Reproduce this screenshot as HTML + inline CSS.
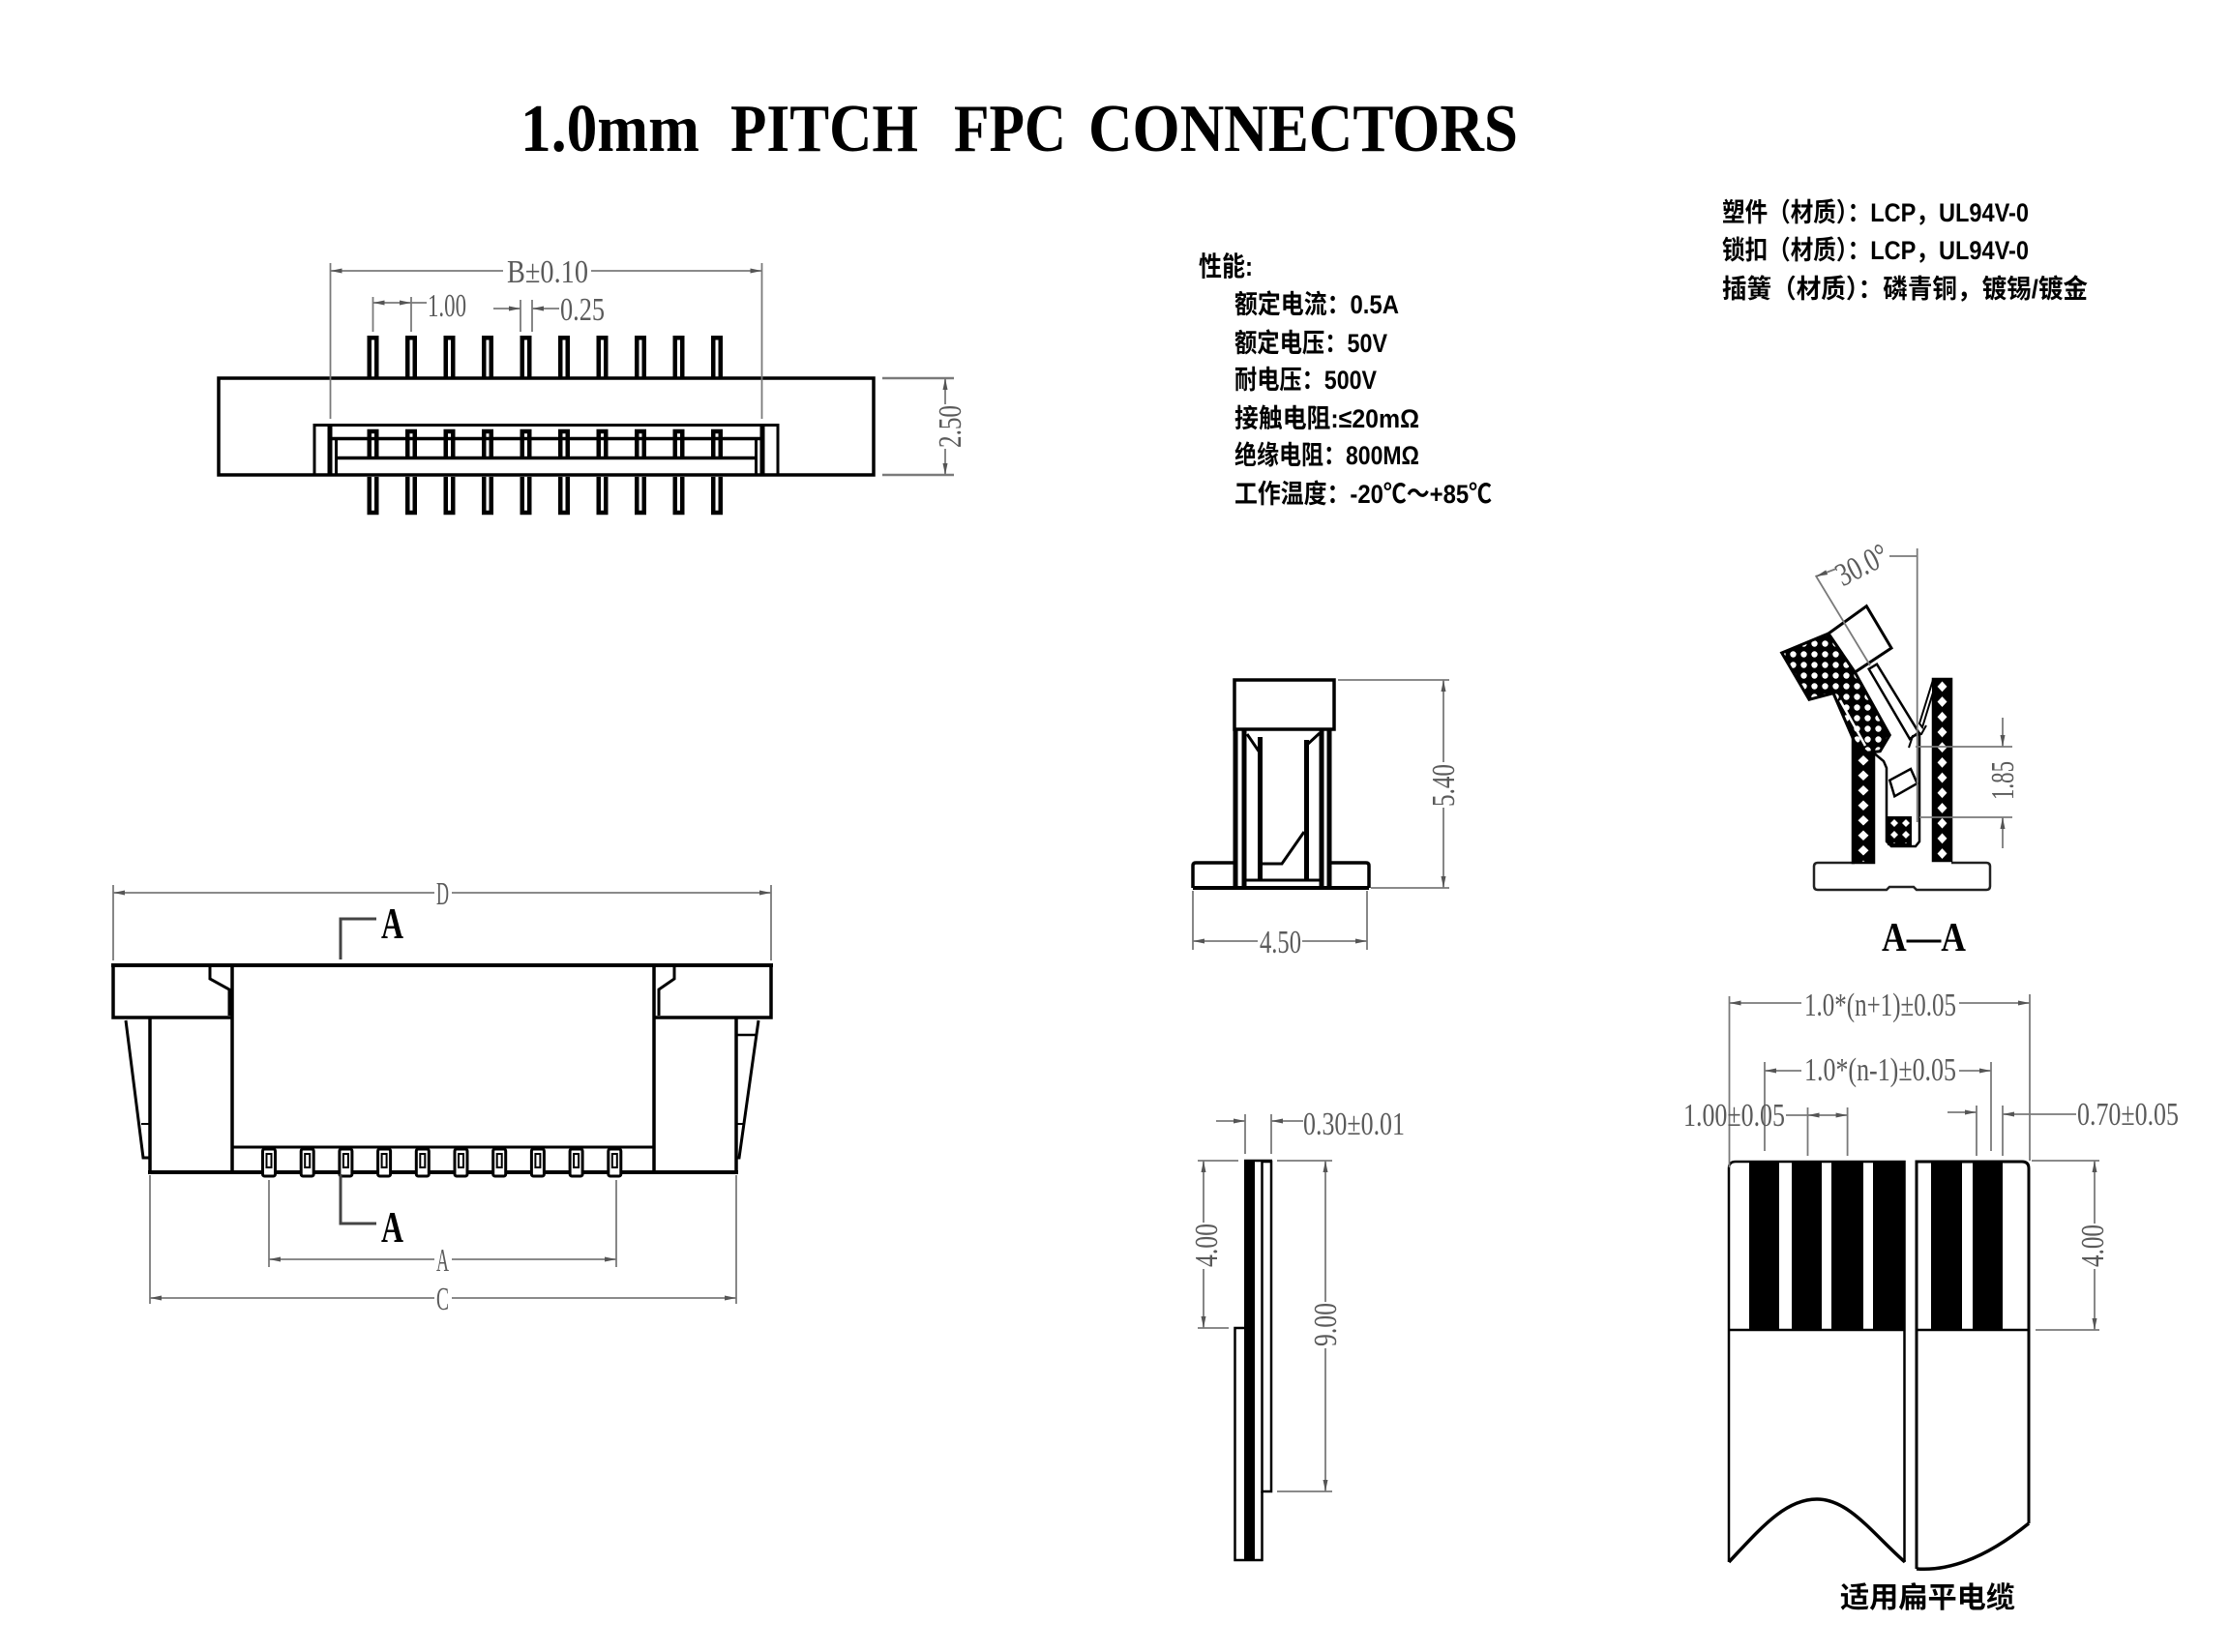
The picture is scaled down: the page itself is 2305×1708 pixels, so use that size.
<!DOCTYPE html>
<html><head><meta charset="utf-8">
<style>
html,body{margin:0;padding:0;background:#fff;}
svg{display:block}
.k{stroke:#000;fill:none;stroke-width:3}
.d{stroke:#7a7a7a;fill:none;stroke-width:1.8}
.t{fill:#5a5a5a;font-family:"Liberation Serif",serif;font-size:34px}
.cj{font-family:"Liberation Sans","Noto Sans CJK SC",sans-serif;font-weight:bold;fill:#000}
</style></head><body>
<svg width="2305" height="1708" viewBox="0 0 2305 1708" xmlns="http://www.w3.org/2000/svg">
<defs>
<marker id="ar" viewBox="0 0 12 6" refX="12" refY="3" markerWidth="12" markerHeight="6" orient="auto" markerUnits="userSpaceOnUse"><path d="M0 0.5L12 3L0 5.5z" fill="#555"/></marker>
<pattern id="hw1" x="1915" y="763" width="22" height="15.5" patternUnits="userSpaceOnUse"><rect width="22" height="15.5" fill="#000"/><path d="M11 2.5L16.5 7.75L11 13L5.5 7.75z" fill="#fff"/></pattern>
<pattern id="hw2" x="1998" y="702" width="19" height="15.7" patternUnits="userSpaceOnUse"><rect width="19" height="15.7" fill="#000"/><path d="M9.5 2.5L14.5 7.85L9.5 13.2L4.5 7.85z" fill="#fff"/></pattern>
<pattern id="hh" x="0" y="0" width="11" height="11" patternUnits="userSpaceOnUse"><rect width="11" height="11" fill="#000"/><circle cx="5.5" cy="5.5" r="3.2" fill="#fff"/></pattern>
<pattern id="hb" x="1952" y="845" width="12" height="12" patternUnits="userSpaceOnUse"><rect width="12" height="12" fill="#000"/><path d="M6 2L10 6L6 10L2 6z" fill="#fff"/></pattern>
<g id="pin" stroke="#000" stroke-width="4.5" fill="none">
<path d="M-3.75 391V349.25H3.75V391"/>
<path d="M-3.75 472V446H3.75V472"/>
<path d="M-3.75 493V530H3.75V493"/>
</g>
<g id="ct">
<rect x="-6.5" y="1188" width="13" height="28" rx="2" fill="#fff" stroke="#000" stroke-width="3"/>
<rect x="-2.5" y="1193" width="5" height="14" fill="none" stroke="#000" stroke-width="2"/>
</g>
</defs>

<!-- TITLE -->
<g font-family="Liberation Serif, serif" font-weight="bold" font-size="70" fill="#000">
<text x="538" y="156" textLength="185" lengthAdjust="spacingAndGlyphs">1.0mm</text>
<text x="755" y="156" textLength="194" lengthAdjust="spacingAndGlyphs">PITCH</text>
<text x="986" y="156" textLength="116" lengthAdjust="spacingAndGlyphs">FPC</text>
<text x="1125" y="156" textLength="444" lengthAdjust="spacingAndGlyphs">CONNECTORS</text>
</g>

<!-- TOP-LEFT DRAWING -->
<rect x="226" y="391" width="677" height="100" fill="none" stroke="#000" stroke-width="3.5"/>
<rect x="325" y="439.5" width="479" height="51.5" fill="none" stroke="#000" stroke-width="3"/>
<line x1="341" y1="439.5" x2="341" y2="491" stroke="#000" stroke-width="5"/>
<line x1="788" y1="439.5" x2="788" y2="491" stroke="#000" stroke-width="5"/>
<line x1="347.5" y1="453" x2="347.5" y2="491" stroke="#000" stroke-width="3"/>
<line x1="781.5" y1="453" x2="781.5" y2="491" stroke="#000" stroke-width="3"/>
<line x1="341" y1="453.5" x2="788" y2="453.5" stroke="#000" stroke-width="3.5"/>
<line x1="347.5" y1="473.5" x2="781.5" y2="473.5" stroke="#000" stroke-width="3.5"/>
<use href="#pin" x="385.5"/><use href="#pin" x="425"/><use href="#pin" x="464.5"/><use href="#pin" x="504"/><use href="#pin" x="543.5"/>
<use href="#pin" x="583"/><use href="#pin" x="622.5"/><use href="#pin" x="662"/><use href="#pin" x="701.5"/><use href="#pin" x="741"/>
<!-- B dim -->
<g class="d">
<line x1="341.5" y1="272" x2="341.5" y2="433"/>
<line x1="787.5" y1="272" x2="787.5" y2="433"/>
<line x1="520" y1="280" x2="341.5" y2="280" marker-end="url(#ar)"/>
<line x1="611" y1="280" x2="787.5" y2="280" marker-end="url(#ar)"/>
<!-- 1.00 -->
<line x1="385.5" y1="307" x2="385.5" y2="343"/>
<line x1="425" y1="307" x2="425" y2="343"/>
<line x1="405" y1="313" x2="385.5" y2="313" marker-end="url(#ar)"/>
<line x1="405" y1="313" x2="425" y2="313" marker-end="url(#ar)"/>
<line x1="425" y1="313" x2="441" y2="313"/>
<!-- 0.25 -->
<line x1="538" y1="310" x2="538" y2="343"/>
<line x1="550" y1="310" x2="550" y2="343"/>
<line x1="510" y1="319" x2="538" y2="319" marker-end="url(#ar)"/>
<line x1="578" y1="319" x2="550" y2="319" marker-end="url(#ar)"/>
<!-- 2.50 -->
<line x1="912" y1="391" x2="986" y2="391" stroke-width="2.5"/>
<line x1="912" y1="491" x2="986" y2="491" stroke-width="2.5"/>
<line x1="977" y1="418" x2="977" y2="391" marker-end="url(#ar)"/>
<line x1="977" y1="464" x2="977" y2="491" marker-end="url(#ar)"/>
</g>
<text class="t" x="524" y="292" textLength="84" lengthAdjust="spacingAndGlyphs">B±0.10</text>
<text class="t" x="442" y="327" textLength="40" lengthAdjust="spacingAndGlyphs">1.00</text>
<text class="t" x="579" y="331" textLength="46" lengthAdjust="spacingAndGlyphs">0.25</text>
<text class="t" transform="translate(982,441) rotate(-90)" x="-22" y="11" textLength="44" lengthAdjust="spacingAndGlyphs">2.50</text>

<!-- SPEC TEXT -->
<g class="cj">
<text x="1239" y="285" font-size="28" textLength="56" lengthAdjust="spacingAndGlyphs">性能:</text>
<text x="1276" y="324" font-size="27" textLength="170" lengthAdjust="spacingAndGlyphs">额定电流：0.5A</text>
<text x="1276" y="364" font-size="27" textLength="158" lengthAdjust="spacingAndGlyphs">额定电压：50V</text>
<text x="1276" y="402" font-size="27" textLength="147" lengthAdjust="spacingAndGlyphs">耐电压：500V</text>
<text x="1276" y="442" font-size="27" textLength="191" lengthAdjust="spacingAndGlyphs">接触电阻:≤20mΩ</text>
<text x="1276" y="480" font-size="27" textLength="191" lengthAdjust="spacingAndGlyphs">绝缘电阻：800MΩ</text>
<text x="1276" y="520" font-size="27" textLength="266" lengthAdjust="spacingAndGlyphs">工作温度：-20℃～+85℃</text>
<text x="1780" y="229" font-size="27" textLength="317" lengthAdjust="spacingAndGlyphs">塑件（材质）：LCP，UL94V-0</text>
<text x="1780" y="268" font-size="27" textLength="317" lengthAdjust="spacingAndGlyphs">锁扣（材质）：LCP，UL94V-0</text>
<text x="1780" y="308" font-size="27" textLength="378" lengthAdjust="spacingAndGlyphs">插簧（材质）：磷青铜，镀锡/镀金</text>
</g>

<!-- MIDDLE SIDE VIEW -->
<rect x="1276" y="703" width="103" height="51" fill="none" stroke="#000" stroke-width="3.5"/>
<g stroke="#000" fill="none">
<line x1="1277" y1="754" x2="1277" y2="918" stroke-width="5"/>
<line x1="1286" y1="754" x2="1286" y2="918" stroke-width="5"/>
<line x1="1302.5" y1="762" x2="1302.5" y2="910" stroke-width="5"/>
<line x1="1350.5" y1="765" x2="1350.5" y2="910" stroke-width="5"/>
<line x1="1366" y1="754" x2="1366" y2="918" stroke-width="5"/>
<line x1="1374" y1="754" x2="1374" y2="918" stroke-width="5"/>
<line x1="1289" y1="759" x2="1302" y2="778" stroke-width="3"/>
<line x1="1364" y1="758" x2="1351" y2="770" stroke-width="3"/>
<path d="M1348 860L1325 893H1303" stroke-width="3"/>
<line x1="1288" y1="910" x2="1367" y2="910" stroke-width="3"/>
<path d="M1279 892H1236Q1233 892 1233 895V918" stroke-width="3.5"/>
<path d="M1372 892H1412Q1415 892 1415 895V918" stroke-width="3.5"/>
<line x1="1233" y1="918" x2="1415" y2="918" stroke-width="4"/>
</g>
<g class="d">
<line x1="1383" y1="703" x2="1498" y2="703"/>
<line x1="1417" y1="918" x2="1498" y2="918"/>
<line x1="1492" y1="788" x2="1492" y2="703" marker-end="url(#ar)"/>
<line x1="1492" y1="835" x2="1492" y2="918" marker-end="url(#ar)"/>
<line x1="1233" y1="921" x2="1233" y2="982"/>
<line x1="1413" y1="921" x2="1413" y2="982"/>
<line x1="1300" y1="973" x2="1233" y2="973" marker-end="url(#ar)"/>
<line x1="1346" y1="973" x2="1413" y2="973" marker-end="url(#ar)"/>
</g>
<text class="t" transform="translate(1492,812) rotate(-90)" x="-22" y="11" textLength="44" lengthAdjust="spacingAndGlyphs">5.40</text>
<text class="t" x="1302" y="985" textLength="43" lengthAdjust="spacingAndGlyphs">4.50</text>

<!-- A-A SECTION -->
<path d="M1917 892H1879Q1875 892 1875 896V916Q1875 920 1879 920H1950L1953 917H1978L1981 920H2053Q2057 920 2057 916V896Q2057 892 2053 892H2017" fill="none" stroke="#222" stroke-width="2.5"/>
<rect x="1915" y="763" width="22" height="129" fill="url(#hw1)" stroke="#000" stroke-width="2.5"/>
<rect x="1998" y="702" width="19" height="188" fill="url(#hw2)" stroke="#000" stroke-width="2.5"/>
<polygon points="1998,703 1984,748 1987,752 1998,716" fill="#fff" stroke="#000" stroke-width="2"/>
<polygon points="1841.7,675 1890,655 1917.3,695 1953.3,760 1943.3,776.7 1930,778.3 1916.7,766.7 1895,716.7 1870,723.3" fill="url(#hh)" stroke="#000" stroke-width="3"/>
<line x1="1902" y1="724" x2="1928" y2="771" stroke="#fff" stroke-width="2.5"/>
<polygon points="1890,655 1929.3,626.7 1955,670 1917.3,695" fill="#fff" stroke="#000" stroke-width="3"/>
<polygon points="1931.7,691.7 1940,686.7 1983.3,757.3 1974,764" fill="#fff" stroke="#000" stroke-width="2.5"/>
<polygon points="1953.3,806.7 1975,795 1981.7,810 1958.3,823.3" fill="#fff" stroke="#000" stroke-width="2.5"/>
<rect x="1952" y="845" width="23" height="28" fill="url(#hb)" stroke="#000" stroke-width="2"/>
<path d="M1935 777L1947 787L1950 794V870L1955 875H1980L1984 870V757" fill="none" stroke="#000" stroke-width="2.5"/>
<path d="M1973 773L1977 761L1986 759L1991 750" fill="none" stroke="#000" stroke-width="2"/>
<g class="d">
<line x1="1981.7" y1="567" x2="1981.7" y2="850"/>
<line x1="1953" y1="575" x2="1981.7" y2="575"/>
<line x1="1876.7" y1="595" x2="1933" y2="688"/>
<line x1="1898" y1="588" x2="1877" y2="596" marker-end="url(#ar)"/>
<line x1="1980" y1="772" x2="2080" y2="772"/>
<line x1="1984" y1="845" x2="2080" y2="845"/>
<line x1="2070" y1="742" x2="2070" y2="772" marker-end="url(#ar)"/>
<line x1="2070" y1="877" x2="2070" y2="845" marker-end="url(#ar)"/>
</g>
<text class="t" font-size="30" transform="translate(1925,585) rotate(-27)" x="-28" y="10" textLength="56" lengthAdjust="spacingAndGlyphs">30.0°</text>
<text class="t" transform="translate(2070,807) rotate(-90)" x="-20" y="11" textLength="40" lengthAdjust="spacingAndGlyphs">1.85</text>
<text x="1945" y="983" font-family="Liberation Serif, serif" font-weight="bold" font-size="42" textLength="87" lengthAdjust="spacingAndGlyphs" fill="#000">A––A</text>

<!-- BOTTOM-LEFT DRAWING -->
<g class="d">
<line x1="117" y1="915" x2="117" y2="993"/>
<line x1="797" y1="915" x2="797" y2="993"/>
<line x1="449" y1="923" x2="117" y2="923" marker-end="url(#ar)"/>
<line x1="467" y1="923" x2="797" y2="923" marker-end="url(#ar)"/>
<line x1="278" y1="1220" x2="278" y2="1310"/>
<line x1="637" y1="1220" x2="637" y2="1310"/>
<line x1="449" y1="1302" x2="278" y2="1302" marker-end="url(#ar)"/>
<line x1="467" y1="1302" x2="637" y2="1302" marker-end="url(#ar)"/>
<line x1="155" y1="1215" x2="155" y2="1348"/>
<line x1="761" y1="1215" x2="761" y2="1348"/>
<line x1="449" y1="1342" x2="155" y2="1342" marker-end="url(#ar)"/>
<line x1="467" y1="1342" x2="761" y2="1342" marker-end="url(#ar)"/>
</g>
<text class="t" font-size="32" x="451" y="935" textLength="13" lengthAdjust="spacingAndGlyphs">D</text>
<text class="t" font-size="32" x="451" y="1314" textLength="13" lengthAdjust="spacingAndGlyphs">A</text>
<text class="t" font-size="32" x="451" y="1354" textLength="13" lengthAdjust="spacingAndGlyphs">C</text>
<g stroke="#000" fill="none">
<line x1="115" y1="998" x2="799" y2="998" stroke-width="4"/>
<path d="M117 998V1052H240" stroke-width="3.5"/>
<path d="M797 998V1052H676" stroke-width="3.5"/>
<path d="M217 1000V1012L237 1023V1050" stroke-width="3"/>
<path d="M697 1000V1012L681 1023V1050" stroke-width="3"/>
<line x1="240" y1="998" x2="240" y2="1212" stroke-width="3.5"/>
<line x1="676" y1="998" x2="676" y2="1212" stroke-width="3.5"/>
<line x1="240" y1="1186" x2="676" y2="1186" stroke-width="3"/>
<line x1="153" y1="1212" x2="763" y2="1212" stroke-width="4"/>
<line x1="155" y1="1052" x2="155" y2="1212" stroke-width="3.5"/>
<line x1="761" y1="1052" x2="761" y2="1212" stroke-width="3.5"/>
<path d="M130 1055L148 1197H155" stroke-width="3"/>
<path d="M784 1055L764 1197H761" stroke-width="3"/>
<line x1="146" y1="1162" x2="155" y2="1162" stroke-width="2"/>
<line x1="761" y1="1162" x2="768" y2="1162" stroke-width="2"/>
<line x1="761" y1="1070" x2="782" y2="1070" stroke-width="2.5"/>
</g>
<use href="#ct" x="278"/><use href="#ct" x="317.7"/><use href="#ct" x="357.4"/><use href="#ct" x="397.1"/><use href="#ct" x="436.8"/>
<use href="#ct" x="476.5"/><use href="#ct" x="516.2"/><use href="#ct" x="555.9"/><use href="#ct" x="595.6"/><use href="#ct" x="635.3"/>
<path d="M352 992V950H389" fill="none" stroke="#444" stroke-width="3"/>
<path d="M352 1214V1265H389" fill="none" stroke="#444" stroke-width="3"/>
<g font-family="Liberation Serif, serif" font-weight="bold" font-size="46" fill="#000">
<text x="394" y="970" textLength="23" lengthAdjust="spacingAndGlyphs">A</text>
<text x="394" y="1284" textLength="23" lengthAdjust="spacingAndGlyphs">A</text>
</g>

<!-- THIN FPC SIDE VIEW -->
<rect x="1286" y="1200" width="11" height="413" fill="#000"/>
<rect x="1304.5" y="1201" width="9.5" height="341" fill="none" stroke="#000" stroke-width="2.5"/>
<line x1="1304.5" y1="1542" x2="1304.5" y2="1614" stroke="#000" stroke-width="2.5"/>
<line x1="1286" y1="1200" x2="1315" y2="1200" stroke="#000" stroke-width="2.5"/>
<path d="M1286 1373H1276.5V1613H1305.5" fill="none" stroke="#000" stroke-width="2.5"/>
<g class="d">
<line x1="1287" y1="1152" x2="1287" y2="1193"/>
<line x1="1314" y1="1152" x2="1314" y2="1193"/>
<line x1="1257" y1="1159" x2="1287" y2="1159" marker-end="url(#ar)"/>
<line x1="1347" y1="1159" x2="1314" y2="1159" marker-end="url(#ar)"/>
<line x1="1238" y1="1200" x2="1280" y2="1200"/>
<line x1="1238" y1="1373" x2="1270" y2="1373"/>
<line x1="1244" y1="1264" x2="1244" y2="1200" marker-end="url(#ar)"/>
<line x1="1244" y1="1312" x2="1244" y2="1373" marker-end="url(#ar)"/>
<line x1="1320" y1="1200" x2="1377" y2="1200"/>
<line x1="1320" y1="1542" x2="1377" y2="1542"/>
<line x1="1370" y1="1346" x2="1370" y2="1200" marker-end="url(#ar)"/>
<line x1="1370" y1="1394" x2="1370" y2="1542" marker-end="url(#ar)"/>
</g>
<text class="t" x="1347" y="1173" textLength="105" lengthAdjust="spacingAndGlyphs">0.30±0.01</text>
<text class="t" transform="translate(1247,1288) rotate(-90)" x="-22" y="11" textLength="45" lengthAdjust="spacingAndGlyphs">4.00</text>
<text class="t" transform="translate(1370,1370) rotate(-90)" x="-22" y="11" textLength="45" lengthAdjust="spacingAndGlyphs">9.00</text>

<!-- FPC CABLE -->
<g fill="#000">
<rect x="1808" y="1201" width="31" height="174"/>
<rect x="1852" y="1201" width="31" height="174"/>
<rect x="1893" y="1201" width="33" height="174"/>
<rect x="1936" y="1201" width="33" height="174"/>
<rect x="1996" y="1201" width="32" height="174"/>
<rect x="2039" y="1201" width="31" height="174"/>
</g>
<g stroke="#000" fill="none">
<path d="M1787 1615V1208Q1787 1201 1794 1201H1968.5V1615" stroke-width="2.5"/>
<path d="M1787 1615C1820 1580 1845 1550 1878 1550C1911 1550 1935 1585 1969 1615" stroke-width="3.5"/>
<path d="M1981 1622V1201H2090Q2097 1201 2097 1208V1575" stroke-width="3"/>
<path d="M1981 1622C2020 1625 2060 1605 2097 1575" stroke-width="3.5"/>
<line x1="1787" y1="1375" x2="1968.5" y2="1375" stroke-width="2.5"/>
<line x1="1981" y1="1375" x2="2097" y2="1375" stroke-width="2.5"/>
</g>
<g class="d">
<line x1="1787.5" y1="1030" x2="1787.5" y2="1207"/>
<line x1="2098" y1="1028" x2="2098" y2="1200"/>
<line x1="1862" y1="1037" x2="1787.5" y2="1037" marker-end="url(#ar)"/>
<line x1="2025" y1="1037" x2="2098" y2="1037" marker-end="url(#ar)"/>
<line x1="1824" y1="1098" x2="1824" y2="1190"/>
<line x1="2058" y1="1098" x2="2058" y2="1190"/>
<line x1="1862" y1="1107" x2="1824" y2="1107" marker-end="url(#ar)"/>
<line x1="2025" y1="1107" x2="2058" y2="1107" marker-end="url(#ar)"/>
<line x1="1868.5" y1="1145" x2="1868.5" y2="1195"/>
<line x1="1909.6" y1="1145" x2="1909.6" y2="1195"/>
<line x1="1846" y1="1153" x2="1868.5" y2="1153"/>
<line x1="1889" y1="1153" x2="1868.5" y2="1153" marker-end="url(#ar)"/>
<line x1="1889" y1="1153" x2="1909.6" y2="1153" marker-end="url(#ar)"/>
<line x1="2043" y1="1143" x2="2043" y2="1195"/>
<line x1="2070" y1="1143" x2="2070" y2="1195"/>
<line x1="2013" y1="1150" x2="2043" y2="1150" marker-end="url(#ar)"/>
<line x1="2146" y1="1152" x2="2070" y2="1152" marker-end="url(#ar)"/>
<line x1="2100" y1="1200" x2="2170" y2="1200"/>
<line x1="2104" y1="1375" x2="2170" y2="1375"/>
<line x1="2165" y1="1265" x2="2165" y2="1200" marker-end="url(#ar)"/>
<line x1="2165" y1="1312" x2="2165" y2="1375" marker-end="url(#ar)"/>
</g>
<text class="t" x="1865" y="1050" textLength="157" lengthAdjust="spacingAndGlyphs">1.0*(n+1)±0.05</text>
<text class="t" x="1865" y="1117" textLength="157" lengthAdjust="spacingAndGlyphs">1.0*(n-1)±0.05</text>
<text class="t" x="1740" y="1164" textLength="105" lengthAdjust="spacingAndGlyphs">1.00±0.05</text>
<text class="t" x="2147" y="1163" textLength="105" lengthAdjust="spacingAndGlyphs">0.70±0.05</text>
<text class="t" transform="translate(2163,1288) rotate(-90)" x="-22" y="11" textLength="44" lengthAdjust="spacingAndGlyphs">4.00</text>
<text class="cj" x="1902" y="1662" font-size="30" textLength="181" lengthAdjust="spacingAndGlyphs">适用扁平电缆</text>
</svg>
</body></html>
